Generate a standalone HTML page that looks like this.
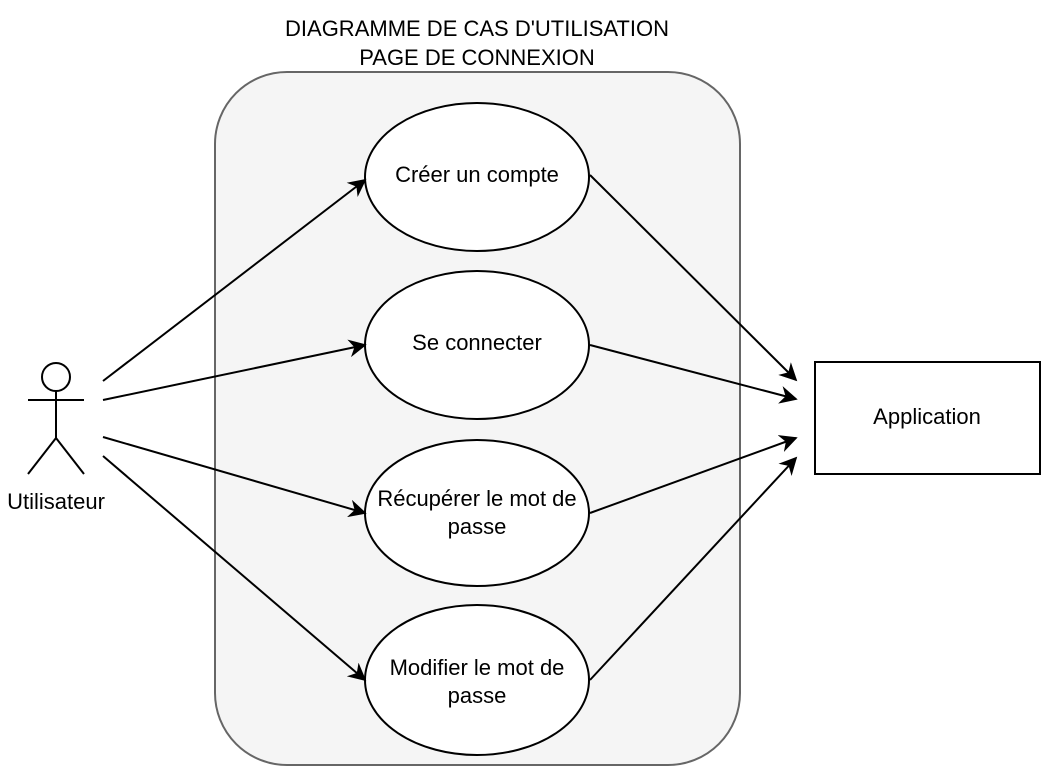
<!DOCTYPE html>
<html><head><meta charset="utf-8"><style>
html,body{margin:0;padding:0;background:#fff;}
svg{display:block;font-family:"Liberation Sans",Arial,sans-serif;}
</style></head><body>
<svg width="1048" height="782" viewBox="0 0 1048 782" xmlns="http://www.w3.org/2000/svg">
<defs>
<marker id="a" viewBox="0 0 10 10" refX="9" refY="5" markerWidth="18" markerHeight="18" markerUnits="userSpaceOnUse" orient="auto">
<path d="M0,0 L10,5 L0,10 L3,5 Z" fill="#000"/>
</marker>
</defs>
<g font-size="22" fill="#000" text-anchor="middle">
<text x="477" y="36">DIAGRAMME DE CAS D'UTILISATION</text>
<text x="477" y="65">PAGE DE CONNEXION</text>
</g>
<rect x="215" y="72" width="525" height="693" rx="72" ry="72" fill="#f5f5f5" stroke="#666" stroke-width="2"/>
<g fill="#fff" stroke="#000" stroke-width="2">
<ellipse cx="477" cy="177" rx="112" ry="74"/>
<ellipse cx="477" cy="345" rx="112" ry="74"/>
<ellipse cx="477" cy="513" rx="112" ry="73"/>
<ellipse cx="477" cy="680" rx="112" ry="75"/>
</g>
<g font-size="22" fill="#000" text-anchor="middle">
<text x="477" y="182">Créer un compte</text>
<text x="477" y="350">Se connecter</text>
<text x="477" y="506">Récupérer le mot de</text>
<text x="477" y="534">passe</text>
<text x="477" y="675">Modifier le mot de</text>
<text x="477" y="703">passe</text>
</g>
<rect x="815" y="362" width="225" height="112" fill="#fff" stroke="#000" stroke-width="2"/>
<text x="927" y="424" font-size="22" text-anchor="middle">Application</text>
<g fill="none" stroke="#000" stroke-width="2">
<circle cx="56" cy="377" r="14" fill="#fff"/>
<line x1="56" y1="391" x2="56" y2="438"/>
<line x1="28" y1="400" x2="84" y2="400"/>
<line x1="56" y1="438" x2="28" y2="474"/>
<line x1="56" y1="438" x2="84" y2="474"/>
</g>
<text x="56" y="509" font-size="22" text-anchor="middle">Utilisateur</text>
<g stroke="#000" stroke-width="2" marker-end="url(#a)">
<line x1="103" y1="381" x2="365" y2="180"/>
<line x1="103" y1="400" x2="365" y2="345"/>
<line x1="103" y1="437" x2="365" y2="513"/>
<line x1="103" y1="456" x2="365" y2="680"/>
<line x1="590" y1="175" x2="796" y2="380"/>
<line x1="590" y1="345" x2="796" y2="399"/>
<line x1="590" y1="513" x2="796" y2="438"/>
<line x1="590" y1="680" x2="796" y2="458"/>
</g>
</svg>
</body></html>
